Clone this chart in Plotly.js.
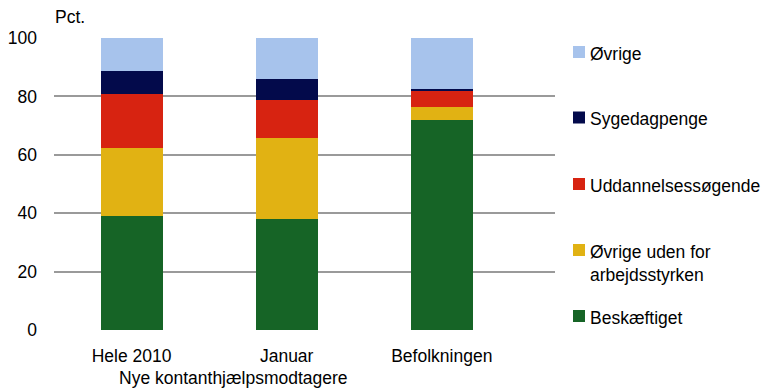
<!DOCTYPE html>
<html><head><meta charset="utf-8">
<script src="https://cdn.plot.ly/plotly-3.0.1.min.js"></script>
<style>html,body{margin:0;padding:0;background:#fff}#c{width:762px;height:388px}</style>
</head><body><div id="c"></div>
<script>
const categories = ["Hele 2010", "Januar", "Befolkningen"];
const seriesNames = ["Beskæftiget", "Øvrige uden for<br>arbejdsstyrken", "Uddannelsessøgende", "Sygedagpenge", "Øvrige"];
const beskaeftiget = [39.0, 38.0, 71.9];
const oevrigeUdenFor = [23.4, 27.7, 4.6];
const uddannelse = [18.4, 13.1, 5.5];
const sygedagpenge = [8.0, 7.3, 0.5];
const oevrige = [11.2, 13.9, 17.5];
const colors = ["#166426", "#E1B213", "#D72311", "#030A4B", "#A7C3EC"];
const yTicks = [0, 20, 40, 60, 80, 100];
const groupLabel = "Nye kontanthjælpsmodtagere";
const unitLabel = "Pct.";

const values = [beskaeftiget, oevrigeUdenFor, uddannelse, sygedagpenge, oevrige];
const font = "'Liberation Sans', Arial, sans-serif";

const traces = values.map((v, i) => ({
  type: "bar", x: [0, 1, 2], y: v, name: seriesNames[i],
  marker: {color: colors[i], line: {width: 0}}, width: 0.4,
  showlegend: false, hoverinfo: "skip"
}));

const L = 54, R = 555, T = 38, B = 330;
const px2x = p => (p - L) / (R - L);
const py2y = p => (B - p) / (B - T);
const legendY = [316, 250, 184, 117.5, 52];
const annotations = [];
const shapes = [];
seriesNames.forEach((n, i) => {
  const cy = legendY[i];
  shapes.push({type: "rect", xref: "paper", yref: "paper",
    x0: px2x(573), x1: px2x(585), y0: py2y(cy + 6), y1: py2y(cy - 6),
    fillcolor: colors[i], line: {width: 0}});
  annotations.push({xref: "paper", yref: "paper", x: px2x(588), y: py2y(cy - 10.5),
    xanchor: "left", yanchor: "top", align: "left", showarrow: false,
    text: n, font: {family: font, size: 17.5, color: "#000"}});
});
annotations.push({xref: "paper", yref: "paper", x: px2x(53), y: py2y(17),
  xanchor: "left", yanchor: "middle", showarrow: false, text: unitLabel,
  font: {family: font, size: 17.5, color: "#000"}});
annotations.push({xref: "paper", yref: "paper", x: px2x(233), y: py2y(378),
  xanchor: "center", yanchor: "middle", showarrow: false, text: groupLabel,
  font: {family: font, size: 17.5, color: "#000"}});

const layout = {
  width: 762, height: 388,
  margin: {l: L, r: 762 - R, t: T, b: 388 - B, pad: 0},
  barmode: "stack",
  paper_bgcolor: "#fff", plot_bgcolor: "#fff",
  showlegend: false,
  font: {family: font, size: 17, color: "#000"},
  xaxis: {range: [-0.5, 2.73], tickvals: [0, 1, 2], ticktext: categories,
    showgrid: false, zeroline: false, showline: false, ticks: "",
    ticklabelstandoff: 13, tickfont: {family: font, size: 17.5, color: "#000"}, fixedrange: true},
  yaxis: {range: [0, 100], tickvals: yTicks, showgrid: true, gridcolor: "#9A9A9A",
    gridwidth: 2, zeroline: false, showline: false, ticks: "",
    ticklabelstandoff: 16,
    tickfont: {family: font, size: 17.5, color: "#000"}, fixedrange: true},
  annotations, shapes
};
Plotly.newPlot("c", traces, layout, {displayModeBar: false, staticPlot: true});
</script></body></html>
